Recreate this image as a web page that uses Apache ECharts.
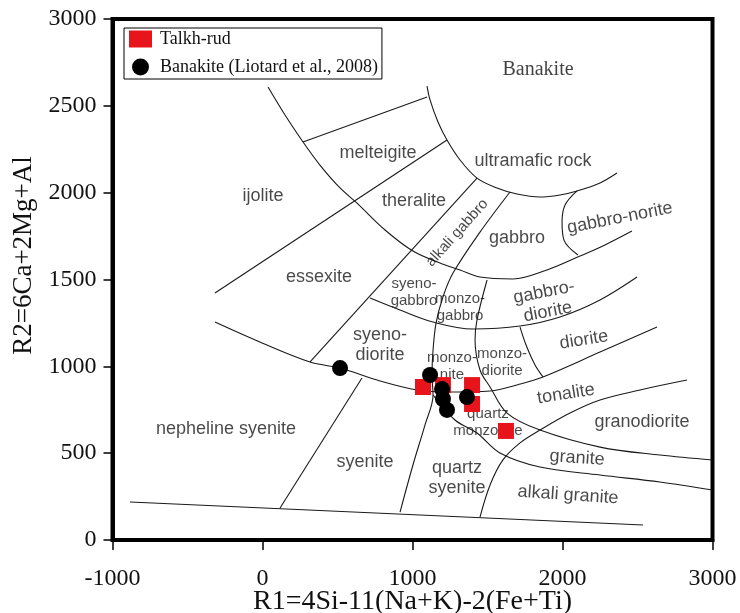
<!DOCTYPE html>
<html><head><meta charset="utf-8">
<script src="https://cdn.jsdelivr.net/npm/echarts@6/dist/echarts.min.js"></script>
<style>html,body{margin:0;padding:0;background:#fff}#c{width:740px;height:613px}</style>
</head><body><div id="c"></div>
<script>
// ---- axis ----
const xMin = -1000, xMax = 3000, xStep = 1000;
const yMin = 0, yMax = 3000, yStep = 500;
const xTitle = 'R1=4Si-11(Na+K)-2(Fe+Ti)';
const yTitle = 'R2=6Ca+2Mg+Al';

// ---- samples (R1, R2) ----
const talkhRud = [[1070,881],[1203,892],[1397,892],[1397,783],[1623,628]];
const banakite = [[517,990],[1117,950],[1197,869],[1203,812],[1230,749],[1363,823]];

// ---- field boundaries (R1, R2) ----
const bBase = [[-883,219],[2537,86]];
const bNephSyenite = [[663,933],[117,184]];
const bTheralite = [[1430,2084],[317,1025]];
const bIjolite = [[1230,2303],[-317,1422]];
const bMelteigiteTop = [[270,2292],[1097,2551]];
const bGabbroLower = [[37,2608],[150,2447],[270,2292],[383,2159],[517,2027],[630,1940],[817,1785],[1003,1664],[1183,1595],[1317,1555],[1450,1514],[1670,1503],[1897,1555],[2117,1635],[2283,1699],[2463,1779]];
const bUltramafic = [[1097,2614],[1117,2534],[1170,2407],[1230,2303],[1317,2188],[1430,2084],[1563,2027],[1697,1992],[1850,1975],[1983,1987],[2097,2010],[2250,2056],[2363,2113]];
const bAlkGabbro = [[1650,2004],[1450,1773],[1270,1537],[1203,1399],[1157,1249],[1137,1094],[1130,950],[1137,835],[1083,662],[1003,432],[917,161]];
const bSyenodiorite = [[-317,1255],[-17,1140],[317,1025],[517,990],[783,916],[1030,864],[1250,852],[1517,858],[1717,898],[1870,939],[2250,1082],[2630,1226]];
const bSyenogabbro = [[717,1393],[917,1324],[1137,1255],[1403,1215],[1717,1232],[1983,1284],[2250,1382],[2497,1514]];
const bMonzogabbro = [[1497,1497],[1430,1267],[1417,1152],[1450,979],[1517,881],[1630,731],[1850,633],[2250,535],[2650,489],[3000,461]];
const bDiorite = [[1717,1226],[1757,1123],[1817,1008],[1870,939]];
const bGabbroNorite = [[2097,2010],[2017,1929],[1997,1831],[2010,1727],[2103,1641]];
const bTonalite = [[1450,132],[1517,317],[1603,461],[1717,559],[1850,633],[2050,731],[2250,806],[2517,864],[2830,921]];
const bGranite = [[1137,835],[1283,691],[1430,616],[1583,501],[1850,420],[2250,374],[2650,334],[3000,288]];

// ---- field names and anchor (R1, R2) ----
const fieldNames = ['ultramafic rock','melteigite','ijolite','theralite','essexite','alkali gabbro','gabbro','gabbro-norite','syeno-\ngabbro','monzo-\ngabbro','gabbro-\ndiorite','syeno-\ndiorite','monzo-\nnite','monzo-\ndiorite','diorite','tonalite','granodiorite','quartz\nmonzonite','granite','alkali granite','quartz\nsyenite','syenite','nepheline syenite'];
const fieldR1 = [1803,770,3,1010,377,1297,1697,2383,1010,1317,1890,783,1263,1597,2143,2023,2530,1503,2097,2037,1297,683,-243];
const fieldR2 = [2182,2228,1981,1952,1514,1768,1739,1854,1428,1342,1370,1123,1002,1025,1152,841,679,679,472,259,357,449,639];
const topLabel = {text:'Banakite', r1:1837, r2:2706};

// ---- style ----
const rot = {'alkali gabbro':48,'gabbro-norite':11,'gabbro-\ndiorite':11,'diorite':9,'tonalite':9,'granite':-4,'alkali granite':-4};
const small = new Set(['syeno-\ngabbro','monzo-\ngabbro','monzo-\nnite','monzo-\ndiorite','quartz\nmonzonite','alkali gabbro']);
const serif = "'Liberation Serif','Times New Roman',serif";
const sans = "'Liberation Sans',Arial,sans-serif";

const boundaries = [
  [bBase,false],[bNephSyenite,false],[bTheralite,false],[bIjolite,false],[bMelteigiteTop,false],
  [bGabbroLower,true],[bUltramafic,true],[bAlkGabbro,true],[bSyenodiorite,true],[bSyenogabbro,true],
  [bMonzogabbro,true],[bDiorite,true],[bGabbroNorite,true],[bTonalite,true],[bGranite,true]
];

const series = boundaries.map(([d,s]) => ({
  type:'line', data:d, smooth:s?0.35:false, showSymbol:false, silent:true,
  lineStyle:{color:'#1a1a1a', width:1.1}, z:2
}));

series.push({
  type:'scatter', silent:true, symbolSize:0, z:3,
  data: fieldNames.map((n,i)=>({
    value:[fieldR1[i],fieldR2[i]],
    label:{show:true, formatter:n, position:'inside', rotate:rot[n]||0,
      fontFamily:sans, fontSize: small.has(n)?15:18, lineHeight: small.has(n)?17:20, color:'#1a1a1a'}
  })).concat([{value:[topLabel.r1,topLabel.r2],
    label:{show:true, formatter:topLabel.text, position:'inside', fontFamily:serif, fontSize:20, color:'#111'}}])
});

series.push({name:'Talkh-rud', type:'scatter', data:talkhRud, symbol:'rect', symbolSize:16,
  itemStyle:{color:'#e8141c', opacity:1}, z:5});
series.push({name:'Banakite (Liotard et al., 2008)', type:'scatter', data:banakite, symbol:'circle', symbolSize:16,
  itemStyle:{color:'#000', opacity:1}, z:6});

const chart = echarts.init(document.getElementById('c'));
chart.setOption({
  animation:false,
  backgroundColor:'#fff',
  grid:{left:112.5, right:27.5, top:19, bottom:73, containLabel:false, outerBoundsMode:'none',
    show:true, borderColor:'#000', borderWidth:4, backgroundColor:'transparent'},
  legend:{
    left:124, top:28, orient:'vertical', itemWidth:23, itemHeight:17, itemGap:10,
    padding:[2,4,3,5], borderColor:'#000', borderWidth:1, backgroundColor:'#fff',
    textStyle:{fontFamily:serif, fontSize:18, color:'#111', padding:[0,0,0,3]},
    data:['Talkh-rud','Banakite (Liotard et al., 2008)']
  },
  xAxis:{
    type:'value', min:xMin, max:xMax, interval:xStep,
    name:xTitle, nameLocation:'middle', nameGap:48, nameMoveOverlap:false,
    nameTextStyle:{fontFamily:serif, fontSize:28, color:'#111'},
    axisLine:{show:true, onZero:false, lineStyle:{color:'#000', width:4}},
    axisTick:{show:true, length:10, lineStyle:{color:'#000', width:1.5}},
    axisLabel:{fontFamily:serif, fontSize:24, color:'#111', margin:27, formatter:v=>String(v)},
    splitLine:{show:false}
  },
  yAxis:{
    type:'value', min:yMin, max:yMax, interval:yStep,
    name:yTitle, nameLocation:'middle', nameGap:73,
    nameTextStyle:{fontFamily:serif, fontSize:27, color:'#111', padding:[0,0,0,48]},
    axisLine:{show:true, onZero:false, lineStyle:{color:'#000', width:4}},
    axisTick:{show:true, length:9, lineStyle:{color:'#000', width:1.5}},
    axisLabel:{fontFamily:serif, fontSize:24, color:'#111', margin:16, formatter:v=>String(v)},
    splitLine:{show:false}
  },
  series:series
});
</script></body></html>
